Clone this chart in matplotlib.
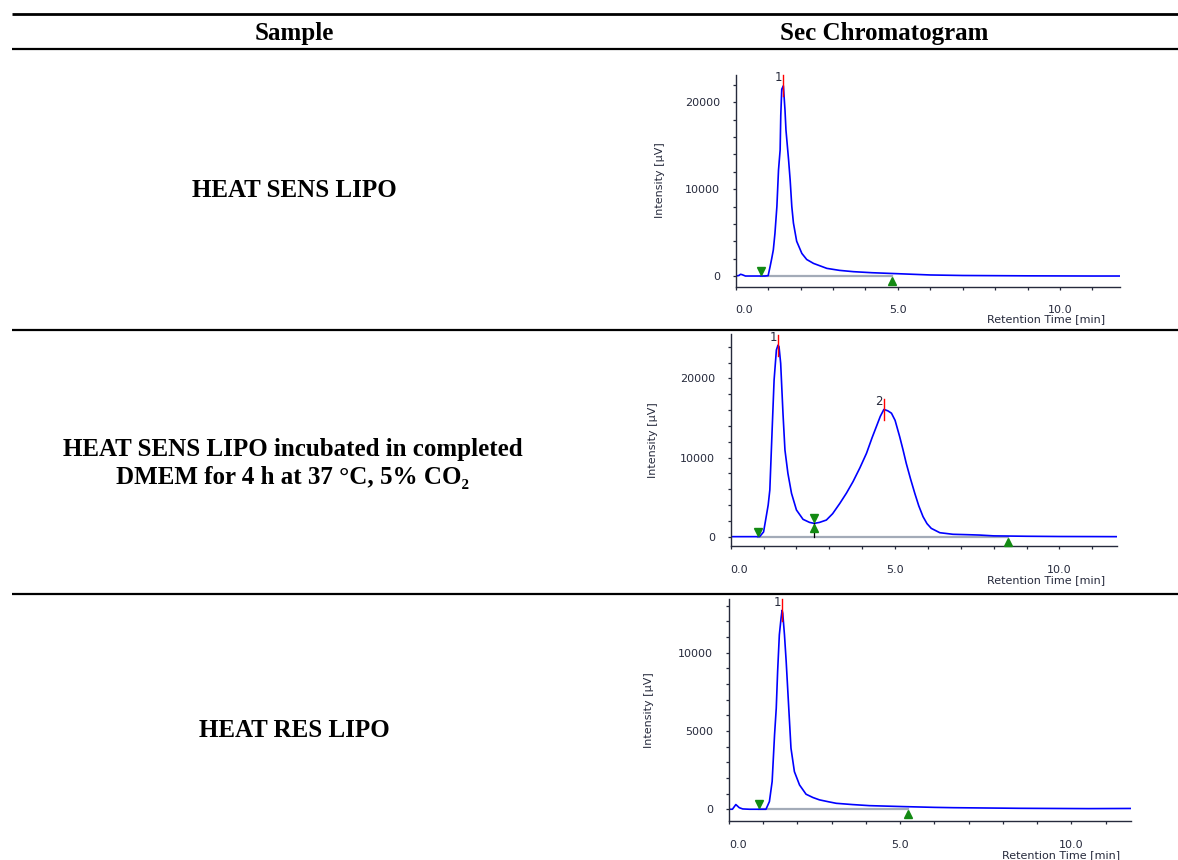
import matplotlib
matplotlib.use("Agg")
import matplotlib.pyplot as plt
from matplotlib.lines import Line2D
from matplotlib.ticker import MultipleLocator, FixedLocator, FixedFormatter
from matplotlib.transforms import offset_copy

W, H = 1178, 860

#--------------------
# Table text
HEADERS = ["Sample", "Sec Chromatogram"]
SAMPLES = [
    "HEAT SENS LIPO",
    "HEAT SENS LIPO incubated in completed\nDMEM for 4 h at 37 °C, 5% CO₂",
    "HEAT RES LIPO",
]

#--------------------
# Chromatogram 1: HEAT SENS LIPO (time [min], intensity [uV])
T1 = [0.0, 0.1, 0.15, 0.2, 0.3, 0.5, 0.7, 0.9, 1.0, 1.06, 1.11, 1.16, 1.21,
      1.27, 1.32, 1.37, 1.39, 1.42, 1.47, 1.52, 1.55, 1.63, 1.68, 1.73, 1.78,
      1.88, 2.04, 2.19, 2.4, 2.81, 3.2, 3.63, 4.2, 4.97, 6.0, 7.0, 8.0, 9.0,
      10.0, 11.0, 11.85]
I1 = [0, 60, 200, 150, 0, 0, 0, 0, 40, 1075, 2000, 3000, 4900,
      8000, 12200, 14500, 18500, 21500, 21900, 19100, 16800, 13400, 11000, 8000, 6100,
      4000, 2600, 1900, 1450, 880, 650, 500, 380, 270, 120, 60, 40, 20,
      10, 0, 0]
PEAK_T1 = [1.47]
PEAK_I1 = [21900]
PEAK_NAMES1 = ["1"]
START1, END1 = 0.77, 4.82
VALLEYS1 = []

#--------------------
# Chromatogram 2: incubated in DMEM
T2 = [0.0, 0.3, 0.6, 0.88, 1.0, 1.08, 1.14, 1.19, 1.26, 1.32, 1.39, 1.44,
      1.47, 1.52, 1.59, 1.65, 1.74, 1.85, 2.0, 2.2, 2.4, 2.54, 2.7, 2.91,
      3.1, 3.32, 3.52, 3.72, 3.93, 4.13, 4.3, 4.43, 4.55, 4.66, 4.78, 4.89,
      5.0, 5.14, 5.24, 5.34, 5.47, 5.6, 5.72, 5.85, 5.97, 6.1, 6.36, 6.76,
      7.2, 7.58, 8.0, 9.0, 10.0, 11.0, 11.75]
I2 = [0, 0, 0, 0, 600, 2530, 4000, 5900, 13470, 19800, 23600, 24200,
      24000, 21900, 15600, 10950, 8000, 5470, 3370, 2190, 1800, 1680, 1800, 2100,
      2900, 4210, 5500, 6950, 8700, 10530, 12500, 13900, 15200, 16080, 15900, 15600,
      14700, 12630, 11000, 9260, 7300, 5470, 3900, 2530, 1650, 1050, 500, 300,
      250, 200, 100, 50, 20, 10, 0]
PEAK_T2 = [1.44, 4.66]
PEAK_I2 = [24200, 16080]
PEAK_NAMES2 = ["1", "2"]
START2, END2 = 0.83, 8.42
VALLEYS2 = [(2.54, 1680)]

#--------------------
# Chromatogram 3: HEAT RES LIPO
T3 = [0.0, 0.1, 0.15, 0.2, 0.25, 0.3, 0.4, 0.6, 0.9, 1.08, 1.18, 1.26, 1.33,
      1.38, 1.42, 1.47, 1.52, 1.55, 1.57, 1.62, 1.67, 1.74, 1.81, 1.91, 2.06,
      2.25, 2.45, 2.64, 2.9, 3.13, 3.6, 4.1, 5.08, 6.0, 6.55, 7.5, 8.5, 9.5,
      10.5, 11.74]
I3 = [0, 0, 150, 300, 200, 100, 20, 0, 0, 0, 490, 1770, 4740,
      6450, 8790, 11130, 12190, 12700, 12500, 11130, 9430, 6660, 3900, 2400, 1550,
      960, 750, 600, 480, 380, 300, 230, 170, 120, 100, 80, 60, 50,
      40, 50]
PEAK_T3 = [1.55]
PEAK_I3 = [12700]
PEAK_NAMES3 = ["1"]
START3, END3 = 0.89, 5.24
VALLEYS3 = []

TICK_COLOR = "#262a3c"
BLUE = "#0000ff"
GREEN = "#138a13"
TXT = 18


def fx(x):
    return x / W


def fy(y):
    return 1 - y / H


def hline(fig, y, lw):
    fig.add_artist(Line2D([fx(12), fx(W)], [fy(y), fy(y)], color="black",
                          lw=lw, solid_capstyle="butt"))


def plot_chrom(fig, box, xlim, ylim, major, minor, t, inten, peak_t, peak_i,
               names, start, end, valleys, xlab_pos, ylab_pos):
    left, top, right, bottom = box
    ax = fig.add_axes([fx(left), fy(bottom), fx(right - left), (bottom - top) / H])
    ax.set_xlim(*xlim)
    ax.set_ylim(*ylim)
    for s in ["top", "right"]:
        ax.spines[s].set_visible(False)
    for s in ["left", "bottom"]:
        ax.spines[s].set_color(TICK_COLOR)
        ax.spines[s].set_linewidth(1.0)

    ax.xaxis.set_major_locator(FixedLocator([0, 5, 10]))
    ax.xaxis.set_major_formatter(FixedFormatter(["0.0", "5.0", "10.0"]))
    ax.xaxis.set_minor_locator(MultipleLocator(1))
    ax.yaxis.set_major_locator(MultipleLocator(major))
    ax.yaxis.set_minor_locator(MultipleLocator(minor))
    ax.tick_params(which="both", direction="out", length=2.4, width=0.9,
                   color=TICK_COLOR, labelsize=8, labelcolor=TICK_COLOR)
    ax.tick_params(axis="x", which="major", pad=11)
    ax.tick_params(axis="y", which="major", pad=9)
    ax.get_xticklabels()[0].set_ha("left")

    # baseline of integration
    ax.plot([start, end], [0, 0], color="#a3abb8", lw=1.6, zorder=1)
    ax.plot(t, inten, color=BLUE, lw=1.2, zorder=2)

    # peak apex marks
    span = 0.05 * (ylim[1] - ylim[0])
    for pt, pi, nm in zip(peak_t, peak_i, names):
        ax.plot([pt, pt], [pi - span, min(pi + span, ylim[1])], color="red",
                lw=1.0, zorder=3, clip_on=False)
        ax.annotate(nm, xy=(pt, pi), xytext=(-1, 8), textcoords="offset pixels",
                    ha="right", va="center", fontsize=8.5, color=TICK_COLOR)

    # integration start/end markers
    up = offset_copy(ax.transData, fig=fig, x=0, y=5, units="dots")
    down = offset_copy(ax.transData, fig=fig, x=0, y=-5, units="dots")
    ax.plot([start], [0], marker="v", ms=5.5, color=GREEN, transform=up,
            clip_on=False, zorder=4)
    ax.plot([end], [0], marker="^", ms=5.5, color=GREEN, transform=down,
            clip_on=False, zorder=4)
    for vt, vi in valleys:
        ax.plot([vt, vt], [0, vi], color="black", lw=0.9, zorder=3)
        ax.plot([vt], [vi], marker="v", ms=5.5, color=GREEN, transform=up, zorder=4)
        ax.plot([vt], [vi], marker="^", ms=5.5, color=GREEN, transform=down, zorder=4)

    fig.text(fx(xlab_pos[0]), fy(xlab_pos[1]), "Retention Time [min]",
             ha="right", va="center", fontsize=8, color=TICK_COLOR)
    fig.text(fx(ylab_pos[0]), fy(ylab_pos[1]), "Intensity [µV]", rotation=90,
             ha="center", va="center", fontsize=8, color=TICK_COLOR)
    return ax


def main():
    fig = plt.figure(figsize=(W / 100, H / 100), dpi=100)

    # table rules
    hline(fig, 14, 2.0)
    hline(fig, 48.5, 1.6)
    hline(fig, 330, 1.6)
    hline(fig, 594, 1.6)

    serif = ["Liberation Serif", "DejaVu Serif"]
    fig.text(fx(294), fy(40), HEADERS[0], ha="center", va="baseline",
             fontsize=TXT, fontweight="bold", family=serif)
    fig.text(fx(884), fy(40), HEADERS[1], ha="center", va="baseline",
             fontsize=TXT, fontweight="bold", family=serif)

    fig.text(fx(294), fy(197), SAMPLES[0], ha="center", va="baseline",
             fontsize=TXT, fontweight="bold", family=serif)
    fig.text(fx(293), fy(484), SAMPLES[1], ha="center", va="baseline",
             fontsize=TXT, fontweight="bold", family=serif, linespacing=1.28,
             multialignment="center")
    fig.text(fx(294), fy(737), SAMPLES[2], ha="center", va="baseline",
             fontsize=TXT, fontweight="bold", family=serif)

    plot_chrom(fig, (735.7, 75, 1120, 286.7), (0, 11.85), (-1230, 23140),
               10000, 2000, T1, I1, PEAK_T1, PEAK_I1, PEAK_NAMES1,
               START1, END1, VALLEYS1, (1105, 319), (660, 180))
    plot_chrom(fig, (730.7, 334, 1117, 546), (0, 11.75), (-1180, 25610),
               10000, 2000, T2, I2, PEAK_T2, PEAK_I2, PEAK_NAMES2,
               START2, END2, VALLEYS2, (1105, 580), (653, 440))
    plot_chrom(fig, (729, 599, 1131, 821), (0, 11.74), (-750, 13420),
               5000, 1000, T3, I3, PEAK_T3, PEAK_I3, PEAK_NAMES3,
               START3, END3, VALLEYS3, (1120, 855), (649, 710))

    fig.savefig("out.png", dpi=100)


if __name__ == "__main__":
    main()
